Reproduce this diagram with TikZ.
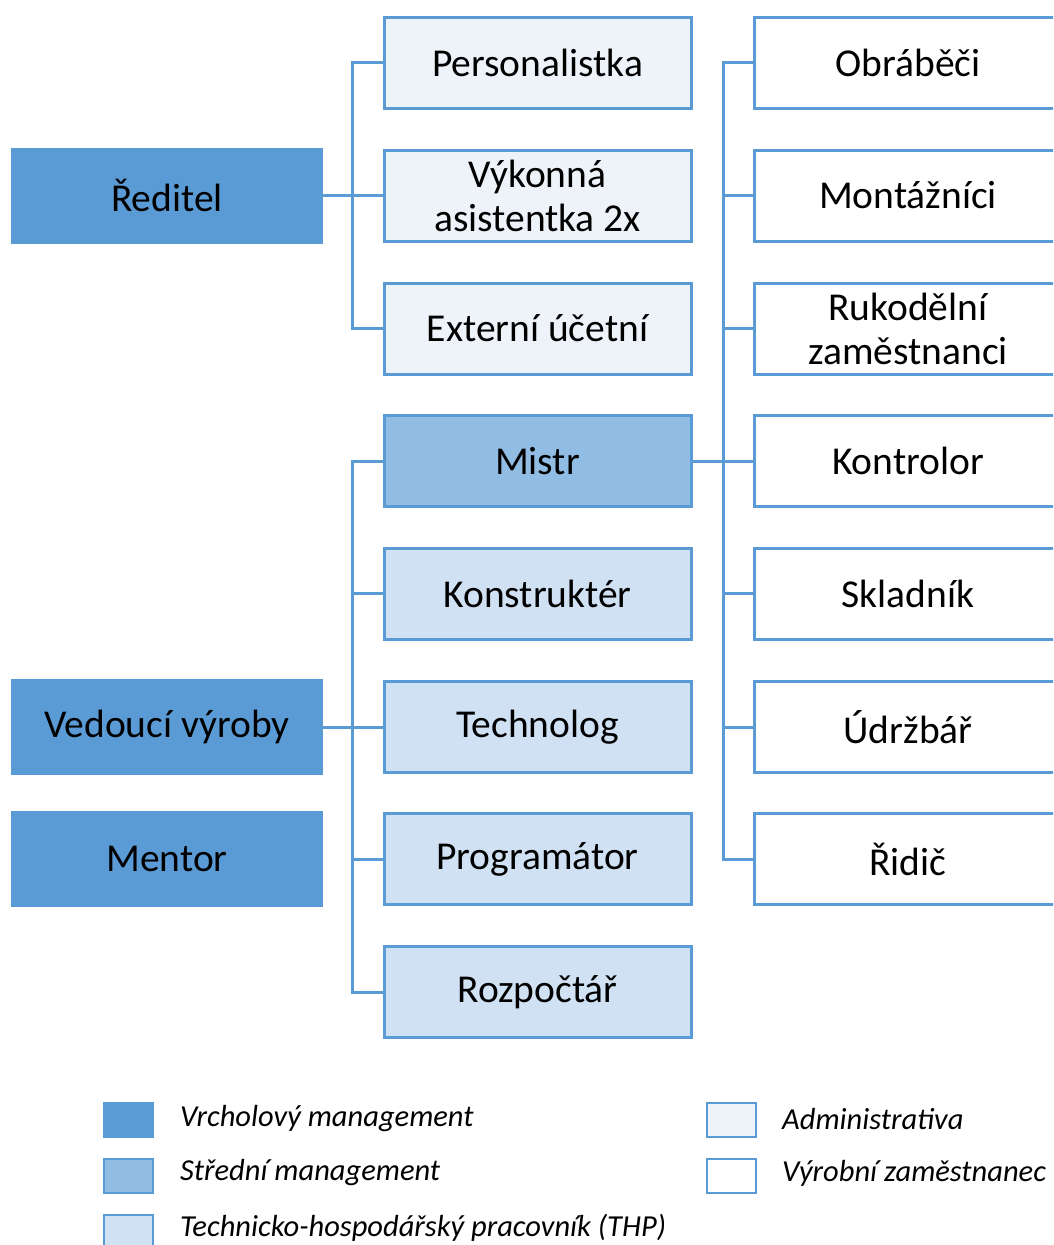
\documentclass[tikz,border=0pt]{standalone}
\usepackage{fontspec}
\setmainfont{Carlito}
\definecolor{bord}{HTML}{5B9BD5}
\definecolor{topfill}{HTML}{5B9BD5}
\definecolor{midfill}{HTML}{91BCE4}
\definecolor{thpfill}{HTML}{CFE1F3}
\definecolor{admfill}{HTML}{EEF3FA}
\begin{document}
\begin{tikzpicture}[x=1pt,y=-1pt,
  box/.style={draw=bord,line width=3pt,minimum width=307pt,minimum height=91pt,inner sep=0pt,align=center,font=\fontsize{39.5}{44}\selectfont},
  topbox/.style={box,fill=topfill,line width=1pt,minimum width=311pt,minimum height=95pt},
  midbox/.style={box,fill=midfill},
  thpbox/.style={box,fill=thpfill},
  admbox/.style={box,fill=admfill},
  prodbox/.style={box,fill=white},
  conn/.style={draw=bord,line width=3pt},
  legsq/.style={draw=bord,line width=2pt,minimum width=49pt,minimum height=34pt,inner sep=0pt},
  legtxt/.style={anchor=west,inner sep=0pt,font=\fontsize{30.5}{34}\selectfont\itshape}]
\useasboundingbox (0,0) rectangle (1053,1245);
\clip (0,0) rectangle (1053,1245);
% left column
\node[topbox] (red) at (167,195.5) {Ředitel};
\node[topbox] (ved) at (167,727) {Vedoucí výroby};
\node[topbox] (men) at (167,859) {Mentor};
% middle column
\node[admbox] (per) at (537.5,62.5) {Personalistka};
\node[admbox] (vyk) at (537.5,195.5) {Výkonná\\asistentka 2x};
\node[admbox] (ext) at (537.5,328.5) {Externí účetní};
\node[midbox] (mis) at (537.5,461) {Mistr};
\node[thpbox] (kon) at (537.5,593.5) {Konstruktér};
\node[thpbox] (tec) at (537.5,727) {Technolog};
\node[thpbox] (pro) at (537.5,859) {Programátor};
\node[thpbox] (roz) at (537.5,992) {Rozpočtář};
% right column
\node[prodbox] (obr) at (908,62.5) {Obráběči};
\node[prodbox] (mon) at (908,195.5) {Montážníci};
\node[prodbox] (ruk) at (908,328.5) {Rukodělní\\zaměstnanci};
\node[prodbox] (ktr) at (908,461) {Kontrolor};
\node[prodbox] (skl) at (908,593.5) {Skladník};
\node[prodbox] (udr) at (908,727) {Údržbář};
\node[prodbox] (rid) at (908,859) {Řidič};
% buses
\coordinate (b1) at (352,0);
\coordinate (b2) at (723,0);
% connectors, bracket 1
\draw[conn] (per.west) -- (per.west -| b1) -- (ext.west -| b1) -- (ext.west);
\draw[conn] (red.east) -- (vyk.west);
% bracket 2
\draw[conn] (mis.west) -- (mis.west -| b1) -- (roz.west -| b1) -- (roz.west);
\draw[conn] (kon.west) -- (kon.west -| b1);
\draw[conn] (ved.east) -- (tec.west);
\draw[conn] (pro.west) -- (pro.west -| b1);
% bracket 3
\draw[conn] (obr.west) -- (obr.west -| b2) -- (rid.west -| b2) -- (rid.west);
\draw[conn] (mon.west) -- (mon.west -| b2);
\draw[conn] (ruk.west) -- (ruk.west -| b2);
\draw[conn] (mis.east) -- (ktr.west);
\draw[conn] (skl.west) -- (skl.west -| b2);
\draw[conn] (udr.west) -- (udr.west -| b2);
% legend
\node[legsq,fill=topfill,draw=topfill] (l1) at (128,1119.5) {};
\node[legsq,fill=midfill] (l2) at (128,1175.5) {};
\node[legsq,fill=thpfill] (l3) at (128,1231.5) {};
\node[legsq,fill=admfill] (l4) at (731,1119.5) {};
\node[legsq,fill=white] (l5) at (731,1175.5) {};
\node[legtxt] (t1) at (180,1119) {Vrcholový management};
\node[legtxt] (t2) at (180,1173) {Střední management};
\node[legtxt] (t3) at (180,1228) {Technicko-hospodářský pracovník (THP)};
\node[legtxt] (t4) at (782,1119) {Administrativa};
\node[legtxt] (t5) at (782,1173) {Výrobní zaměstnanec};
\end{tikzpicture}
\end{document}
